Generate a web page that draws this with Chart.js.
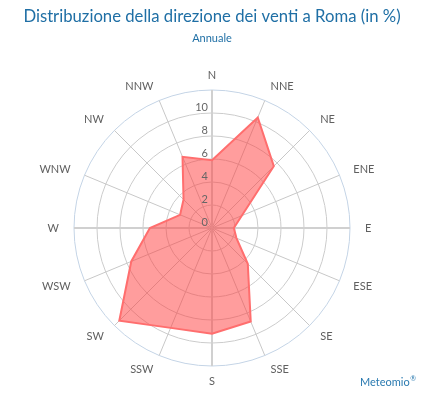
<!DOCTYPE html>
<html>
<head>
<meta charset="utf-8">
<script src="https://cdn.jsdelivr.net/npm/chart.js@4/dist/chart.umd.min.js"></script>
<style>
  html, body { margin: 0; padding: 0; background: #fff; }
  #wrap { position: relative; width: 421px; height: 394px; }
</style>
</head>
<body>
<div id="wrap"><canvas id="c"></canvas></div>
<script>
// ---- data ----
const directions = ['N','NNE','NE','ENE','E','ESE','SE','SSE','S','SSW','SW','WSW','W','WNW','NW','NNW'];
const frequencies = [5.9, 10.4, 7.6, 2.8, 1.9, 2.3, 4.4, 8.8, 9.2, 9.4, 11.4, 7.6, 5.4, 3.0, 3.5, 6.7];
const axisMin = 0;
const axisMax = 12;
const axisStep = 2;
const tickLabelValues = [0, 2, 4, 6, 8, 10];
const titleText = 'Distribuzione della direzione dei venti a Roma (in %)';
const subtitleText = 'Annuale';
const creditText = 'Meteomio';
const creditMark = '\u00AE';

const FONT = 'Lato, "Open Sans", sans-serif';
const BLUE = '#1f6fa5';

const tickLabelPlugin = {
  id: 'tickLabels',
  afterDatasetsDraw(chart) {
    const s = chart.scales.r;
    const ctx = chart.ctx;
    ctx.save();
    ctx.font = '11px ' + FONT;
    ctx.fillStyle = '#666666';
    ctx.textAlign = 'right';
    ctx.textBaseline = 'middle';
    tickLabelValues.forEach(v => {
      const d = s.getDistanceFromCenterForValue(v);
      ctx.fillText(String(v), s.xCenter - 4, s.yCenter - d - 6);
    });
    ctx.restore();
  }
};

const creditPlugin = {
  id: 'credit',
  afterDraw(chart) {
    const ctx = chart.ctx;
    ctx.save();
    ctx.fillStyle = '#2a7ab0';
    ctx.textBaseline = 'middle';
    ctx.textAlign = 'right';
    ctx.font = '7px ' + FONT;
    const mw = ctx.measureText(creditMark).width;
    ctx.fillText(creditMark, 416, 379);
    ctx.font = '11px ' + FONT;
    ctx.fillText(creditText, 416 - mw - 0.5, 382);
    ctx.restore();
  }
};

new Chart(document.getElementById('c'), {
  type: 'radar',
  data: {
    labels: directions,
    datasets: [{
      data: frequencies,
      backgroundColor: 'rgba(255, 60, 60, 0.5)',
      borderColor: 'rgba(255, 110, 110, 1)',
      borderWidth: 2,
      pointRadius: 0,
      pointHoverRadius: 0,
      tension: 0,
      fill: true
    }]
  },
  options: {
    responsive: true,
    maintainAspectRatio: false,
    animation: false,
    events: [],
    layout: { padding: { left: 3, right: 0, top: 0, bottom: 13 } },
    plugins: {
      legend: { display: false },
      tooltip: { enabled: false },
      title: {
        display: true,
        text: titleText,
        color: BLUE,
        font: { family: FONT, size: 16.7, weight: 'normal', lineHeight: '20px' },
        padding: { top: 7, bottom: 0 }
      },
      subtitle: {
        display: true,
        text: subtitleText,
        color: BLUE,
        font: { family: FONT, size: 11, weight: 'normal', lineHeight: '13px' },
        padding: { top: 5, bottom: 30 }
      }
    },
    scales: {
      r: {
        min: axisMin,
        max: axisMax,
        startAngle: 0,
        ticks: { display: false, stepSize: axisStep },
        grid: {
          circular: true,
          color: (ctx) => (ctx.tick && ctx.tick.value === axisMax) ? '#c4d4e6' : '#cccccc',
          lineWidth: 1
        },
        angleLines: {
          display: true,
          color: (ctx) => ctx.index % 4 === 0 ? '#d0d0d0' : '#c8c8c8',
          lineWidth: (ctx) => ctx.index % 4 === 0 ? 2 : 1
        },
        pointLabels: {
          display: true,
          color: '#606060',
          padding: 15,
          font: { family: FONT, size: 11, lineHeight: 0 }
        }
      }
    }
  },
  plugins: [tickLabelPlugin, creditPlugin]
});
</script>
</body>
</html>
